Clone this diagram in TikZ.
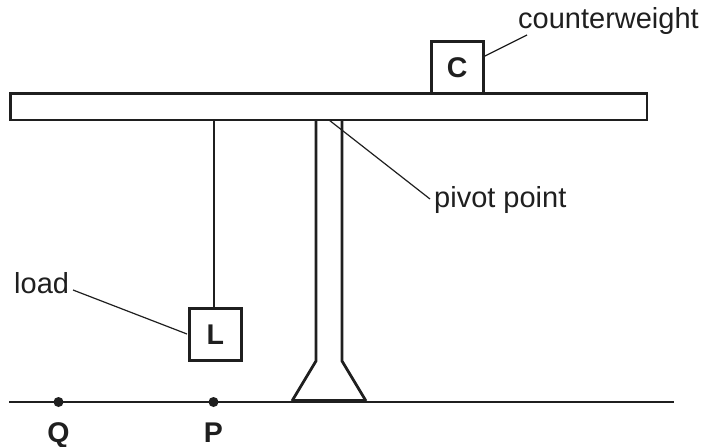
\documentclass[tikz,border=0pt]{standalone}
\usepackage{fontspec}
\setmainfont{Liberation Sans}
\definecolor{ink}{gray}{0.12}
\begin{document}
\begin{tikzpicture}[x=1pt,y=-1pt,
  lbl/.style={inner sep=0pt,text=ink,font=\fontsize{29}{32}\selectfont},
  bold/.style={inner sep=0pt,text=ink,font=\fontsize{28.5}{32}\selectfont\bfseries},
  line/.style={line width=2.8pt,ink},
  lead/.style={line width=1.2pt,ink},
  box/.style={draw=ink,line width=2.5pt,fill=white,inner sep=0pt}]
\useasboundingbox (0,0) rectangle (705,447);
\node[box,minimum width=636.5pt,minimum height=26.5pt,anchor=north west] (beam) at (9,92) {};
\node[box,bold,minimum width=52pt,minimum height=52pt,anchor=north west] (C) at (430,40) {C};
\node[box,bold,minimum width=52pt,minimum height=52pt,anchor=north west] (L) at (188,307) {L};
\coordinate (lt) at (214,119);
\draw[line] (lt) -- (L.north -| lt);
\coordinate (pl) at (316,119);
\coordinate (pr) at (342,119);
\draw[line] (pl) -- (316,361) -- (292,401);
\draw[line] (pr) -- (342,361) -- (366,401);
\coordinate (g1) at (9,402);
\coordinate (g2) at (674,402);
\draw[line] (g1) -- (g2);
\draw[line width=4pt,ink] (292,401) -- (366,401);
\fill[ink] (58.5,402) circle (5pt) coordinate (q);
\fill[ink] (213.5,402) circle (5pt) coordinate (p);
\node[bold,anchor=base] (Qt) at (58.5,442.5) {Q};
\node[bold,anchor=base] (Pt) at (213.5,442.5) {P};
\node[lbl,anchor=base west] (cw) at (518,28.5) {counterweight};
\node[lbl,anchor=base west] (pp) at (434,207) {pivot point};
\node[lbl,anchor=base west] (ld) at (14,293.5) {load};
\coordinate (cwa) at (527,35);
\coordinate (ppa) at (430,199);
\coordinate (pta) at (329,120);
\coordinate (lda) at (73,290);
\coordinate (cb) at (483,57);
\coordinate (lb) at (187,334);
\draw[lead] (cwa) -- (cb);
\draw[lead] (ppa) -- (pta);
\draw[lead] (lda) -- (lb);
\end{tikzpicture}
\end{document}
